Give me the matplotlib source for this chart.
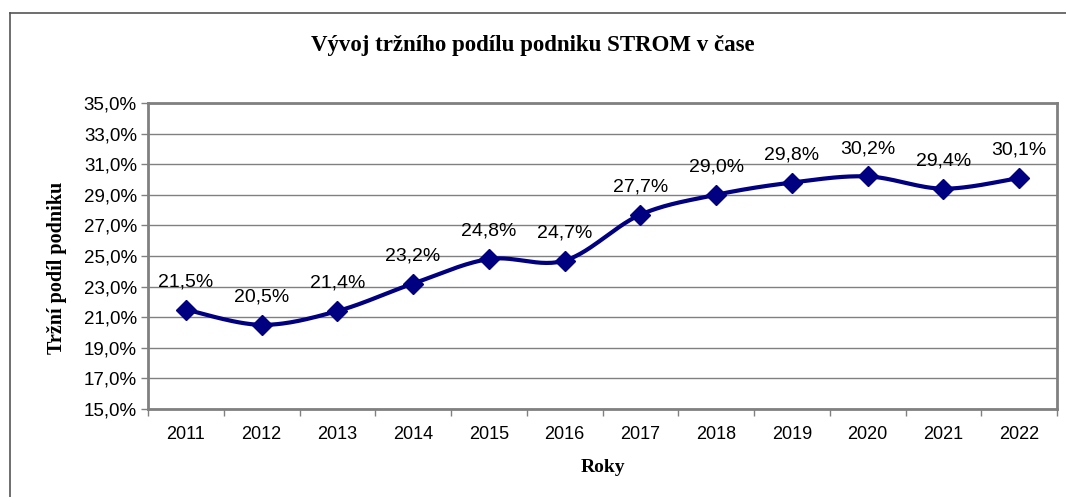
import numpy as np
import matplotlib
matplotlib.use("Agg")
import matplotlib.pyplot as plt
from matplotlib.lines import Line2D

# Data
years = ['2011', '2012', '2013', '2014', '2015', '2016',
         '2017', '2018', '2019', '2020', '2021', '2022']
share = [21.5, 20.5, 21.4, 23.2, 24.8, 24.7, 27.7, 29.0, 29.8, 30.2, 29.4, 30.1]
y_ticks = [15, 17, 19, 21, 23, 25, 27, 29, 31, 33, 35]

title = 'Vývoj tržního podílu podniku STROM v čase'
x_label = 'Roky'
y_label = 'Tržní podíl podniku'

navy = '#000080'
grey = '#808080'
sans = ['Liberation Sans', 'DejaVu Sans']
serif = ['Liberation Serif', 'DejaVu Serif']


def fmt(v):
    return f'{v:.1f}'.replace('.', ',') + '%'


def smooth(xs, ys, n=30):
    # Excel-like smoothed line: cubic Bezier with control points from neighbours
    xs = np.asarray(xs, float)
    ys = np.asarray(ys, float)
    px, py = [], []
    for i in range(len(xs) - 1):
        x0, y0 = xs[max(i - 1, 0)], ys[max(i - 1, 0)]
        x1, y1 = xs[i], ys[i]
        x2, y2 = xs[i + 1], ys[i + 1]
        x3, y3 = xs[min(i + 2, len(xs) - 1)], ys[min(i + 2, len(xs) - 1)]
        c1x, c1y = x1 + (x2 - x0) / 6, y1 + (y2 - y0) / 6
        c2x, c2y = x2 - (x3 - x1) / 6, y2 - (y3 - y1) / 6
        t = np.linspace(0, 1, n)
        a, b, c, d = (1 - t) ** 3, 3 * (1 - t) ** 2 * t, 3 * (1 - t) * t ** 2, t ** 3
        px.extend(a * x1 + b * c1x + c * c2x + d * x2)
        py.extend(a * y1 + b * c1y + c * c2y + d * y2)
    return px, py


W, H = 1066, 497
fig = plt.figure(figsize=(W / 100, H / 100), dpi=100)

# outer chart border (only left and top visible in the crop)
fig.add_artist(Line2D([10 / W, 10 / W], [0, 1 - 13 / H], transform=fig.transFigure,
                      color='#555555', lw=1.2))
fig.add_artist(Line2D([10 / W, 1], [1 - 13 / H, 1 - 13 / H], transform=fig.transFigure,
                      color='#555555', lw=1.2))

left, right, top, bottom = 148, 1057, 103, 409
ax = fig.add_axes([left / W, 1 - bottom / H, (right - left) / W, (bottom - top) / H])

x = np.arange(len(years))
sx, sy = smooth(x, share)
ax.plot(sx, sy, color=navy, lw=3, solid_capstyle='round', zorder=3)
ax.plot(x, share, linestyle='none', marker='D', ms=10, color=navy, zorder=4)

for xi, v in zip(x, share):
    ax.annotate(fmt(v), (xi, v), xytext=(0, 20), textcoords='offset points',
                ha='center', va='center', fontsize=14, family=sans)

ax.set_xlim(-0.5, len(years) - 0.5)
ax.set_ylim(15, 35)
ax.set_yticks(y_ticks)
ax.set_yticklabels([fmt(v) for v in y_ticks], fontsize=13.5, family=sans)
ax.set_xticks(x)
ax.set_xticklabels(years, fontsize=13, family=sans)
ax.set_xticks(np.arange(-0.5, len(years)), minor=True)
ax.tick_params(axis='x', which='major', length=0, pad=12)
ax.tick_params(axis='x', which='minor', length=5, color=grey, width=1)
ax.tick_params(axis='y', length=5, color=grey, width=1, pad=3)

ax.grid(axis='y', color=grey, lw=1)
ax.set_axisbelow(True)
for s in ax.spines.values():
    s.set_color(grey)
    s.set_linewidth(2)

ax.set_xlabel(x_label, fontsize=14, fontweight='bold', family=serif, labelpad=12)
ax.set_ylabel(y_label, fontsize=14.5, fontweight='bold', family=serif, labelpad=12)
ax.yaxis.label.set_y(0.46)
fig.text(533 / W, 1 - 45 / H, title, ha='center', va='center',
         fontsize=16.5, fontweight='bold', family=serif)

fig.savefig('out.png', dpi=100)
